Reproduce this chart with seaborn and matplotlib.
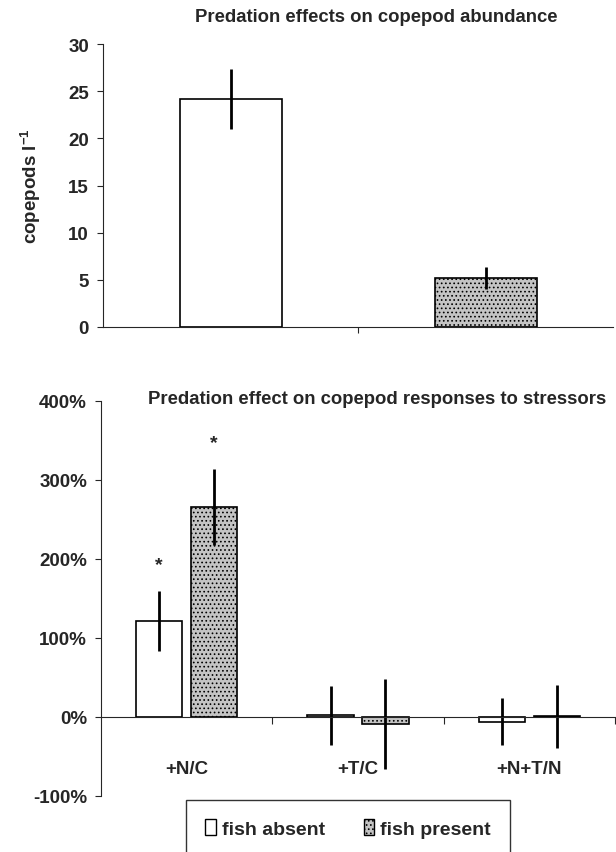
import numpy as np
import pandas as pd
import matplotlib
matplotlib.use("Agg")
import matplotlib.pyplot as plt
from matplotlib.patches import Patch
from matplotlib.ticker import FuncFormatter
import seaborn as sns

# top panel: copepod abundance
groups = ["fish absent", "fish present"]
abund_mean = [24.2, 5.2]
abund_err = [3.2, 1.2]

# bottom panel: response to stressors (%)
stressors = ["+N/C", "+T/C", "+N+T/N"]
absent_mean = [121, 2, -6]
absent_err = [38, 37, 30]
present_mean = [266, -9, 1]
present_err = [48, 57, 40]
signif = [[True, False, False], [True, False, False]]

sns.set_style("ticks")
plt.rcParams["font.family"] = ["Liberation Sans", "DejaVu Sans"]
plt.rcParams["font.weight"] = "bold"
plt.rcParams["mathtext.fontset"] = "custom"
plt.rcParams["mathtext.rm"] = "Liberation Sans:bold"
plt.rcParams["mathtext.it"] = "Liberation Sans:bold"
plt.rcParams["mathtext.bf"] = "Liberation Sans:bold"
plt.rcParams["hatch.linewidth"] = 0.7

present_face = "#c4c4c4"
present_hatch = "...."
palette = {"fish absent": "white", "fish present": present_face}

fig = plt.figure(figsize=(6.16, 8.53), dpi=100)
W, H = 616, 853
ax1 = fig.add_axes([103 / W, 1 - 328 / H, (613 - 103) / W, (328 - 45) / H])
ax2 = fig.add_axes([101 / W, 1 - 797 / H, (615 - 101) / W, (797 - 402) / H])

# ---- top panel
sns.barplot(x=groups, y=abund_mean, hue=groups, palette=palette, legend=False,
            width=0.4, edgecolor="black", linewidth=1.2, saturation=1, ax=ax1)
for bar, m, e in zip(ax1.patches, abund_mean, abund_err):
    if bar.get_facecolor()[0] < 0.99:
        bar.set_hatch(present_hatch)
    xc = bar.get_x() + bar.get_width() / 2
    ax1.errorbar(xc, m, yerr=e, fmt="none", ecolor="black", elinewidth=2, capsize=0)

ax1.set_xlim(-0.5, 1.5)
ax1.set_ylim(0, 30)
ax1.set_yticks(np.arange(0, 31, 5))
ax1.set_xticks([0.5])
ax1.set_xticklabels([])
ax1.tick_params(axis="x", length=4, width=0.8)
ax1.tick_params(axis="y", length=4, width=0.8, labelsize=13.5, pad=6)
ax1.set_ylabel(r"copepods l$^{-1}$", fontsize=13.5, fontweight="bold", labelpad=18)
sns.despine(ax=ax1)
for sp in ax1.spines.values():
    sp.set_linewidth(0.8)

# ---- bottom panel
df = pd.DataFrame({
    "stressor": stressors * 2,
    "fish": ["fish absent"] * 3 + ["fish present"] * 3,
    "value": absent_mean + present_mean,
})
sns.barplot(data=df, x="stressor", y="value", hue="fish", palette=palette,
            width=0.64, gap=0.156, edgecolor="black", linewidth=1.2,
            saturation=1, legend=False, ax=ax2)
for k, (cont, means, errs) in enumerate(zip(ax2.containers,
                                            [absent_mean, present_mean],
                                            [absent_err, present_err])):
    for j, (bar, m, e) in enumerate(zip(cont, means, errs)):
        if k == 1:
            bar.set_hatch(present_hatch)
        xc = bar.get_x() + bar.get_width() / 2
        ax2.errorbar(xc, m, yerr=e, fmt="none", ecolor="black", elinewidth=2, capsize=0)
        if signif[k][j]:
            ax2.annotate("*", (xc, m + e), xytext=(0, 13), textcoords="offset points",
                         ha="center", va="bottom", fontsize=14, fontweight="bold")

ax2.set_xlim(-0.5, 2.5)
ax2.set_ylim(-100, 400)
ax2.set_yticks(np.arange(-100, 401, 100))
ax2.yaxis.set_major_formatter(FuncFormatter(lambda v, p: f"{v:.0f}%"))
ax2.spines["bottom"].set_position(("data", 0))
ax2.set_xticks([0.5, 1.5, 2.5], minor=True)
ax2.tick_params(axis="x", which="minor", length=5, width=0.8, direction="out")
ax2.tick_params(axis="x", which="major", length=0, pad=31, labelsize=13.5)
ax2.tick_params(axis="y", length=4, width=0.8, labelsize=13.5, pad=6)
ax2.set_xlabel("")
ax2.set_ylabel("")
sns.despine(ax=ax2)
for sp in ax2.spines.values():
    sp.set_linewidth(0.8)

# titles
fig.text(376 / W, 1 - 18 / H, "Predation effects on copepod abundance",
         ha="center", va="center", fontsize=13.3, fontweight="bold")
fig.text(377 / W, 1 - 400 / H, "Predation effect on copepod responses to stressors",
         ha="center", va="center", fontsize=13.3, fontweight="bold")

# legend
handles = [Patch(facecolor="white", edgecolor="black", linewidth=1),
           Patch(facecolor=present_face, edgecolor="black", hatch=present_hatch, linewidth=1)]
leg = fig.legend(handles, groups, loc="upper center", bbox_to_anchor=(348 / W, 1 - 801 / H),
                 ncol=2, frameon=True, fancybox=False, edgecolor="black", fontsize=14,
                 handlelength=0.55, handleheight=0.85, handletextpad=0.3,
                 columnspacing=2.0, borderpad=1.0, borderaxespad=0)
leg.get_frame().set_linewidth(1.0)

fig.savefig("out.png", dpi=100, facecolor="white")
